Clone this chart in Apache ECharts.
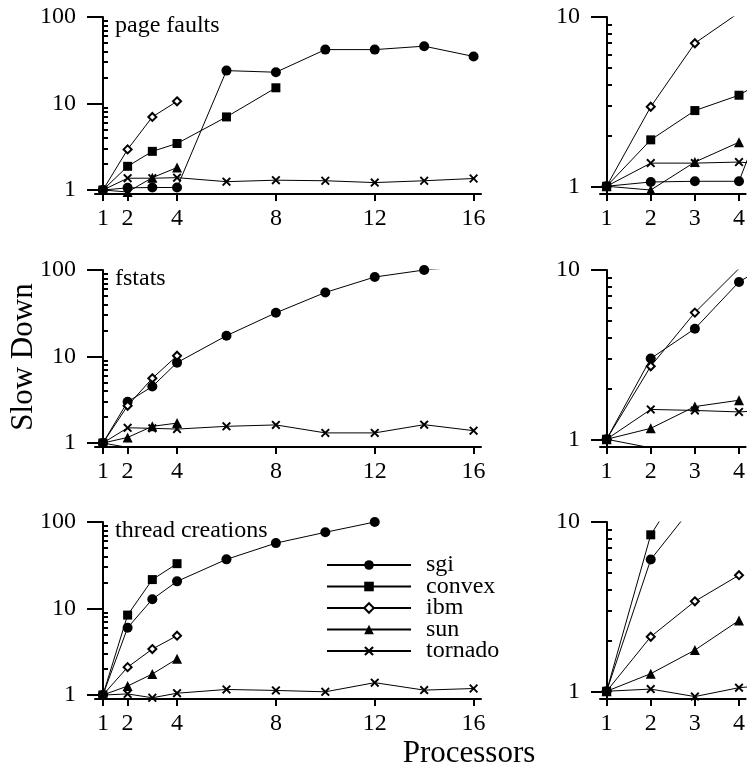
<!DOCTYPE html>
<html><head><meta charset="utf-8">
<script src="https://cdn.jsdelivr.net/npm/echarts@6/dist/echarts.min.js"></script>
<style>html,body{margin:0;padding:0;background:#fff}#c{width:748px;height:770px}</style>
</head><body><div id="c"></div>
<script>
// ---- data ----
const procs = [1, 2, 3, 4, 6, 8, 10, 12, 14, 16];
const seriesNames = ['sgi', 'convex', 'ibm', 'sun', 'tornado'];
const panelTitles = ['page faults', 'fstats', 'thread creations'];
const xAxisTitle = 'Processors';
const yAxisTitle = 'Slow Down';
const leftXTicks = [1, 2, 4, 8, 12, 16];
const rightXTicks = [1, 2, 3, 4];
const leftYTicks = [1, 10, 100];
const rightYTicks = [1, 10];
const leftMinorTicks = [2, 3, 4, 5, 6, 7, 8, 9, 20, 30, 40, 50, 60, 70, 80, 90];
const rightMinorTicks = [2, 3, 4, 5, 6, 7, 8, 9];

// page faults
const pfSgi = [1, 1.06, 1.07, 1.07, 24, 23, 42, 42, 46, 35];
const pfConvex = [1, 1.88, 2.8, 3.45, 7.0, 15.2];
const pfIbm = [1, 2.95, 7.0, 10.6];
const pfSun = [1, 0.95, 1.39, 1.82];
const pfTornado = [1, 1.37, 1.37, 1.39, 1.25, 1.3, 1.28, 1.22, 1.28, 1.36];
// fstats
const fsSgi = [1, 3.0, 4.5, 8.5, 17.4, 32, 55, 83, 100, 112];
const fsConvex = [1, 0.89, 0.88, 0.88, 0.88, 0.88];
const fsIbm = [1, 2.7, 5.6, 10.2];
const fsSun = [1, 1.16, 1.56, 1.7];
const fsTornado = [1, 1.5, 1.48, 1.45, 1.56, 1.62, 1.31, 1.31, 1.63, 1.39];
// thread creations
const tcSgi = [1, 6.0, 12.8, 20.6, 37, 57, 76, 100];
const tcConvex = [1, 8.4, 21.6, 33];
const tcIbm = [1, 2.1, 3.4, 4.85];
const tcSun = [1, 1.27, 1.75, 2.62];
const tcTornado = [1, 1.03, 0.93, 1.05, 1.16, 1.13, 1.09, 1.39, 1.14, 1.19];

const panelData = [
  [pfSgi, pfConvex, pfIbm, pfSun, pfTornado],
  [fsSgi, fsConvex, fsIbm, fsSun, fsTornado],
  [tcSgi, tcConvex, tcIbm, tcSun, tcTornado]
];

// ---- styles ----
const FONT = 'Liberation Serif';
const rowTops = [17, 270, 522];
const gridH = 177;
const crossPath = 'path://M0,1.5L1.5,0L5,3.5L8.5,0L10,1.5L6.5,5L10,8.5L8.5,10L5,6.5L1.5,10L0,8.5L3.5,5Z';
const symbolDefs = [
  { symbol: 'circle', size: 10, item: { color: '#000' } },
  { symbol: 'rect', size: 9, item: { color: '#000' } },
  { symbol: 'diamond', size: 8, item: { color: '#fff', borderColor: '#000', borderWidth: 2 } },
  { symbol: 'triangle', size: 10, item: { color: '#000' } },
  { symbol: crossPath, size: 9, item: { color: '#000' } }
];

const grids = [], xAxes = [], yAxes = [], series = [];
const labelStyle = { color: '#000', fontFamily: FONT, fontSize: 24 };

rowTops.forEach((top, r) => {
  [0, 1].forEach(col => {
    const gi = grids.length;
    const isLeft = col === 0;
    grids.push(isLeft ? { left: 95, top: top, width: 386, height: gridH }
                      : { left: 600, top: top, width: 152, height: gridH });
    xAxes.push({
      type: 'value', gridIndex: gi,
      min: isLeft ? 0.68 : 0.85, max: isLeft ? 16.3 : 4.15,
      axisLine: { onZero: false, lineStyle: { color: '#000', width: 2 } },
      axisTick: { customValues: isLeft ? leftXTicks : rightXTicks, length: 7, lineStyle: { color: '#000', width: 2 } },
      axisLabel: Object.assign({ customValues: isLeft ? leftXTicks : rightXTicks, margin: 13 }, labelStyle),
      splitLine: { show: false }
    });
    const yMax = isLeft ? 100 : 10;
    const off = isLeft ? -8 : -7;
    yAxes.push({
      type: 'log', logBase: 10, gridIndex: gi, min: 0.9, max: yMax, position: 'left', offset: off,
      axisLine: { lineStyle: { color: '#000', width: 2 } },
      axisTick: { customValues: isLeft ? leftYTicks : rightYTicks, length: 16, lineStyle: { color: '#000', width: 2 } },
      axisLabel: Object.assign({ customValues: isLeft ? leftYTicks : rightYTicks, margin: 27 }, labelStyle),
      splitLine: { show: false }, minorTick: { show: false }
    });
    yAxes.push({
      type: 'log', logBase: 10, gridIndex: gi, min: 0.9, max: yMax, position: 'left', offset: off,
      axisLine: { show: false },
      axisTick: { inside: true, customValues: isLeft ? leftMinorTicks : rightMinorTicks, length: 5, lineStyle: { color: '#000', width: 2 } },
      axisLabel: { show: false },
      splitLine: { show: false }
    });
    panelData[r].forEach((vals, s) => {
      const d = symbolDefs[s];
      series.push({
        type: 'line', name: seriesNames[s],
        xAxisIndex: gi, yAxisIndex: gi * 2,
        data: vals.map((v, i) => [procs[i], v]),
        symbol: d.symbol, symbolSize: d.size, showSymbol: true, showAllSymbol: true,
        itemStyle: d.item,
        lineStyle: { color: '#000', width: 1 },
        clip: true, z: 2 + s, animation: false, silent: true
      });
    });
  });
});

const graphics = panelTitles.map((t, r) => ({
  type: 'text', x: 115, y: rowTops[r] + 9,
  style: { text: t, font: '24px "' + FONT + '"', fill: '#000', align: 'left', verticalAlign: 'middle', textAlign: 'left', textVerticalAlign: 'middle' }
}));
graphics.push({
  type: 'text', x: 24, y: 357, rotation: Math.PI / 2,
  style: { text: yAxisTitle, font: '31px "' + FONT + '"', fill: '#000', align: 'center', verticalAlign: 'middle', textAlign: 'center', textVerticalAlign: 'middle' }
});
graphics.push({
  type: 'text', x: 469, y: 754,
  style: { text: xAxisTitle, font: '31px "' + FONT + '"', fill: '#000', align: 'center', verticalAlign: 'middle', textAlign: 'center', textVerticalAlign: 'middle' }
});

const chart = echarts.init(document.getElementById('c'), null, { renderer: 'canvas' });
chart.setOption({
  animation: false,
  backgroundColor: '#fff',
  grid: grids, xAxis: xAxes, yAxis: yAxes, series: series,
  legend: {
    data: seriesNames, orient: 'vertical', left: 326, top: 553,
    itemWidth: 84, itemHeight: 12, itemGap: -2.5, padding: 0, selectedMode: false,
    textStyle: { color: '#000', fontFamily: FONT, fontSize: 24, lineHeight: 22, padding: [0, 0, 0, 10] }
  },
  graphic: graphics
});
</script></body></html>
